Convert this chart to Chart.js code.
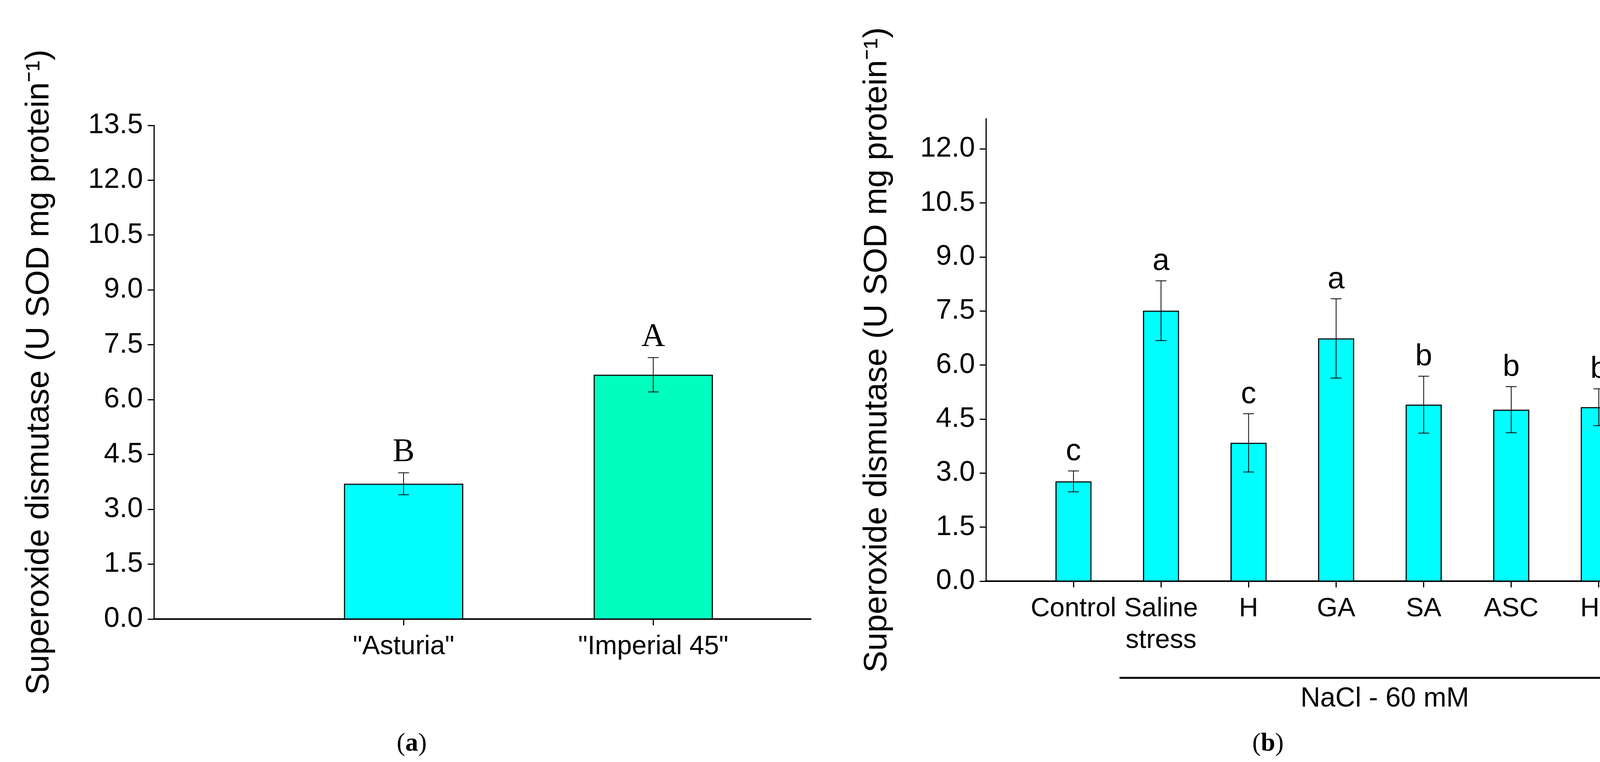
<!DOCTYPE html>
<html>
<head>
<meta charset="utf-8">
<script src="https://cdn.jsdelivr.net/npm/chart.js@4"></script>
<style>
  body { margin: 0; background: #fff; width: 4328px; height: 1951px; position: relative; overflow: hidden; }
  canvas { position: absolute; top: 0; }
  .cap { position: absolute; font-family: "Liberation Serif"; font-size: 66px; transform: translateX(-50%); }
  #nacl { position: absolute; left: 3545px; top: 1745px; transform: translateX(-50%); font-family: "Liberation Sans"; font-size: 70px; }
  #line { position: absolute; left: 2866px; top: 1733px; width: 1356px; height: 5px; background: #000; }
</style>
</head>
<body>
<div id="wa" style="position:absolute;left:0;top:0;width:2150px;height:1951px"><canvas id="ca"></canvas></div>
<div id="wb" style="position:absolute;left:2150px;top:0;width:2178px;height:1951px"><canvas id="cb"></canvas></div>
<div id="line"></div>
<div id="nacl">NaCl - 60 mM</div>
<div class="cap" style="left:1054px;top:1862px">(<b>a</b>)</div>
<div class="cap" style="left:3246px;top:1862px">(<b>b</b>)</div>
<script>
// panel (a)
const cultivars   = ['"Asturia"', '"Imperial 45"'];
const sodA        = [3.70, 6.68];
const errA        = [0.30, 0.47];
const lettersA    = ['B', 'A'];
const colorsA     = ['#00FFFF', '#00FFBF'];
const yTicksA     = [0, 1.5, 3, 4.5, 6, 7.5, 9, 10.5, 12, 13.5];

// panel (b)
const treatments  = ['Control', ['Saline', 'stress'], 'H', 'GA', 'SA', 'ASC', 'HP'];
const sodB        = [2.77, 7.51, 3.84, 6.74, 4.90, 4.76, 4.83];
const errB        = [0.29, 0.83, 0.81, 1.10, 0.79, 0.64, 0.51];
const lettersB    = ['c', 'a', 'c', 'a', 'b', 'b', 'b'];
const yTicksB     = [0, 1.5, 3, 4.5, 6, 7.5, 9, 10.5, 12];

const yTitle = 'Superoxide dismutase (U SOD mg protein\u207B\u00B9)';

const errorBars = {
  id: 'errorBars',
  afterDatasetsDraw(chart, args, opts) {
    const ctx = chart.ctx;
    const x = chart.scales.x, y = chart.scales.y;
    ctx.save();
    ctx.strokeStyle = '#000';
    ctx.lineWidth = 2;
    opts.values.forEach((v, i) => {
      const px = x.getPixelForValue(i + 1);
      const hi = y.getPixelForValue(v + opts.err[i]);
      const lo = y.getPixelForValue(v - opts.err[i]);
      ctx.beginPath();
      ctx.moveTo(px, hi); ctx.lineTo(px, lo);
      ctx.moveTo(px - 14, hi); ctx.lineTo(px + 14, hi);
      ctx.moveTo(px - 14, lo); ctx.lineTo(px + 14, lo);
      ctx.stroke();
      ctx.fillStyle = '#000';
      ctx.font = opts.font;
      ctx.textAlign = 'center';
      ctx.textBaseline = 'bottom';
      ctx.fillText(opts.letters[i], px, hi - 10);
    });
    ctx.restore();
  }
};

function makeChart(id, labels, values, err, letters, colors, xmax, ymax, yTicks, barW, pad, letterFont) {
  return new Chart(document.getElementById(id), {
    type: 'bar',
    data: {
      datasets: [{
        data: values.map((v, i) => ({ x: i + 1, y: v })),
        backgroundColor: colors,
        borderColor: '#000',
        borderWidth: 3,
        borderSkipped: 'bottom',
        barThickness: barW
      }]
    },
    options: {
      responsive: true,
      maintainAspectRatio: false,
      animation: false,
      layout: { padding: pad },
      plugins: {
        legend: { display: false },
        tooltip: { enabled: false },
        errorBars: { values: values, err: err, letters: letters, font: letterFont }
      },
      scales: {
        x: {
          type: 'linear', min: 0, max: xmax, offset: false,
          afterBuildTicks: s => { s.ticks = values.map((_, i) => ({ value: i + 1 })); },
          afterFit: s => { s.height = 200; },
          ticks: {
            autoSkip: false, maxRotation: 0, padding: 14,
            color: '#000', font: { family: 'Liberation Sans', size: 68 },
            callback: v => labels[v - 1]
          },
          grid: { drawOnChartArea: false, offset: false, tickLength: 16, color: '#000', lineWidth: 3 },
          border: { color: '#000', width: 4 }
        },
        y: {
          min: 0, max: ymax,
          afterBuildTicks: s => { s.ticks = yTicks.map(v => ({ value: v })); },
          afterFit: s => { s.width = pad.yw; },
          ticks: {
            padding: 12, color: '#000',
            font: { family: 'Liberation Sans', size: 72 },
            callback: v => v.toFixed(1)
          },
          title: {
            display: true, text: yTitle, color: '#000',
            font: { family: 'Liberation Sans', size: 84 }, padding: { top: 0, bottom: 20 }
          },
          grid: { drawOnChartArea: false, tickLength: 16, color: '#000', lineWidth: 3 },
          border: { color: '#000', width: 3 }
        }
      }
    },
    plugins: [errorBars]
  });
}

makeChart('ca', cultivars, sodA, errA, lettersA, colorsA, 2.63, 13.5, yTicksA, 305,
  { left: 50, top: 321, right: 75, bottom: 166, yw: 344 }, '84px "Liberation Serif"');
makeChart('cb', treatments, sodB, errB, lettersB, sodB.map(() => '#00FFFF'), 7.96, 12.84, yTicksB, 92,
  { left: 45, top: 304, right: 20, bottom: 263, yw: 329 }, '78px "Liberation Sans"');
</script>
</body>
</html>
